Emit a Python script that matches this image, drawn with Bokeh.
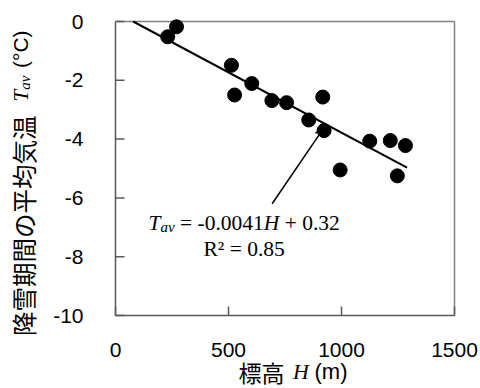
import math
from bokeh.plotting import figure
from bokeh.models import Range1d, Label, Arrow, OpenHead, FixedTicker
from bokeh.embed import file_html
from bokeh.resources import INLINE

# ---- data ----
elevation = [231, 270, 513, 527, 603, 692, 757, 855, 917, 923, 994, 1125, 1216, 1247, 1283]
temperature = [-0.52, -0.18, -1.49, -2.50, -2.11, -2.69, -2.76, -3.35, -2.57, -3.71,
               -5.05, -4.07, -4.05, -5.25, -4.22]
fit_slope = -0.0041
fit_intercept = 0.32
fit_extent = [78, 1290]
r_squared = 0.85
arrow_tail = [693, -6.2]
arrow_head = [919, -3.65]
x_ticks = [0, 500, 1000, 1500]
y_ticks = [-10, -8, -6, -4, -2, 0]
x_min, x_max = 0, 1500
y_min, y_max = -10, 0
x_label_cjk = "標高"
y_label_cjk = "降雪期間の平均気温"

# ---- layout: plot box in canvas pixels ----
W, H = 480, 388
BL, BR, BT, BB = 115, 454, 21, 315
TICK = 9  # inward tick length, px
kx = (BR - BL) / (x_max - x_min)
ky = (BB - BT) / (y_max - y_min)
xr = Range1d(x_min - BL / kx, x_min + (W - BL) / kx)
yr = Range1d(y_max - (H - BT) / ky, y_max + BT / ky)

p = figure(width=W, height=H, x_range=xr, y_range=yr,
           output_backend="svg", toolbar_location=None,
           min_border_left=0, min_border_right=0, min_border_top=0, min_border_bottom=0)
p.background_fill_color = "white"
p.border_fill_color = "white"
p.outline_line_color = None
p.xgrid.visible = False
p.ygrid.visible = False

AX = "#595959"
BOX = "#808080"

# axes supply the tick labels; rule and tick marks are drawn as segments below
xa = p.xaxis[0]
ya = p.yaxis[0]
xa.fixed_location = y_min
ya.fixed_location = x_min
for ax in (xa, ya):
    ax.axis_line_color = None
    ax.major_tick_line_color = None
    ax.minor_tick_line_color = None
    ax.major_tick_in = 0
    ax.major_tick_out = 0
    ax.major_label_text_font = "Liberation Sans"
    ax.major_label_text_font_size = "21px"
    ax.major_label_text_color = "black"
xa.ticker = FixedTicker(ticks=x_ticks)
ya.ticker = FixedTicker(ticks=y_ticks)
ya.major_label_overrides = {t: str(t) for t in y_ticks}
xa.major_label_standoff = 27
ya.major_label_standoff = 32

# plot box: top/right lighter, bottom/left darker
p.segment(x0=[x_min, x_max], y0=[y_max, y_min], x1=[x_max, x_max], y1=[y_max, y_max],
          line_color=BOX, line_width=1.5)
p.segment(x0=[x_min, x_min], y0=[y_min, y_min], x1=[x_max, x_min], y1=[y_min, y_max],
          line_color=AX, line_width=1.5)
# inward tick marks
p.segment(x0=x_ticks, y0=[y_min] * len(x_ticks), x1=x_ticks,
          y1=[y_min + TICK / ky] * len(x_ticks), line_color=AX, line_width=1.5)
p.segment(x0=[x_min] * len(y_ticks), y0=y_ticks, x1=[x_min + TICK / kx] * len(y_ticks),
          y1=y_ticks, line_color=AX, line_width=1.5)

p.scatter(elevation, temperature, size=14, color="black")
fit_y = [fit_slope * h + fit_intercept for h in fit_extent]
p.line(fit_extent, fit_y, line_color="black", line_width=2)

p.add_layout(Arrow(end=OpenHead(size=8, line_width=1.5, line_color="black"),
                   x_start=arrow_tail[0], y_start=arrow_tail[1],
                   x_end=arrow_head[0], y_end=arrow_head[1],
                   line_color="black", line_width=1.5))


def to_data(px, py):
    return x_min + (px - BL) / kx, y_max - (py - BT) / ky


def put(px, py, text, font, size, style="normal", angle=0.0):
    x, y = to_data(px, py)
    p.add_layout(Label(x=x, y=y, text=text, text_font=font, text_font_size=f"{size}px",
                       text_font_style=style, text_color="black", text_align="left",
                       text_baseline="middle", angle=angle))


# Times / Liberation Serif advance widths (em)
TW = {"T": 0.556, "a": 0.5, "v": 0.444, " ": 0.25, "=": 0.564, "-": 0.333, ".": 0.25,
      "H": 0.722, "+": 0.564, "R": 0.667, "²": 0.3}


def tw(s, size):
    return sum(TW.get(c, 0.5) for c in s) * size


serif = "Liberation Serif"
sans = "Liberation Sans"
cjk = "Noto Sans CJK JP"

# equation (pieces without leading / trailing spaces)
fs = 21.5
sub = 15
sp = tw(" ", fs)
eq_parts = [("T", fs, "italic", 0, 0), ("av", sub, "italic", 4, sp),
            ("=", fs, "normal", 0, sp), (f"{fit_slope:.4f}", fs, "normal", 0, 0),
            ("H", fs, "italic", 0, sp), ("+", fs, "normal", 0, sp),
            (f"{fit_intercept:.2f}", fs, "normal", 0, 0)]
cx, mid = 148, 222
for txt, sz, st, dy, gap in eq_parts:
    put(cx, mid + dy, txt, serif, sz, st)
    cx += tw(txt, sz) + gap
put(203, 248.5, f"R² = {r_squared:.2f}", serif, fs, "normal")

# x-axis title
put(238, 371, x_label_cjk, cjk, 23)
put(292.5, 371, "H", serif, 22, "italic")
put(314, 371, "(m)", sans, 22)

# y-axis title (rotated, reads bottom to top)
rot = math.pi / 2
put(22.5, 335.5, y_label_cjk, cjk, 24.5, angle=rot)
put(20, 101, "T", serif, 21, "italic", angle=rot)
put(24, 101 - tw("T", 21), "av", serif, 15, "italic", angle=rot)
put(19.5, 67.5, "(°C)", sans, 21, angle=rot)

open("out.html", "w").write(file_html(p, INLINE))
